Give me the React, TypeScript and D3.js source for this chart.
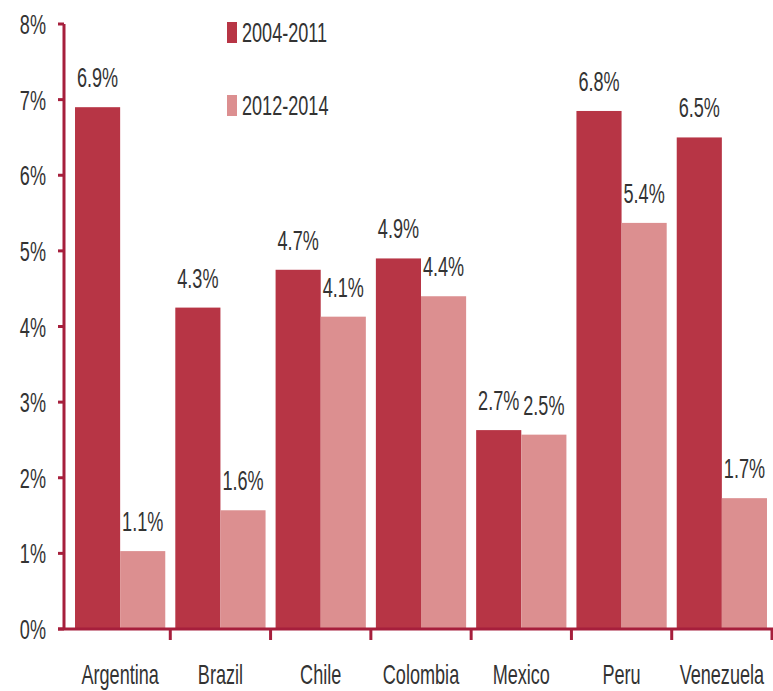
import React from 'react';
import * as d3 from 'd3';

// data
const countries = ['Argentina', 'Brazil', 'Chile', 'Colombia', 'Mexico', 'Peru', 'Venezuela'];
const series = ['2004-2011', '2012-2014'];
const values2004 = [6.9, 4.25, 4.75, 4.9, 2.63, 6.85, 6.5];
const values2012 = [1.03, 1.57, 4.13, 4.4, 2.57, 5.37, 1.73];
const labels2004 = ['6.9%', '4.3%', '4.7%', '4.9%', '2.7%', '6.8%', '6.5%'];
const labels2012 = ['1.1%', '1.6%', '4.1%', '4.4%', '2.5%', '5.4%', '1.7%'];
const yTicks = [0, 1, 2, 3, 4, 5, 6, 7, 8];

const colors = ['#b73545', '#dc8f90'];
const axisColor = '#a61f3c';
const textColor = '#333333';
const font = '"Liberation Sans", Arial, sans-serif';
const sx = 0.67;

const width = 773;
const height = 691;

// squeezed text, the original uses a narrow face
const Label = ({ x, y, children, anchor = 'middle', size = 27 }) => (
    <text
        transform={`translate(${x},${y}) scale(${sx},1)`}
        textAnchor={anchor}
        fontSize={size}
        fontFamily={font}
        fill={textColor}
    >
        {children}
    </text>
);

const App = () => {
    const margins = { left: 64, top: 24, bottom: 629 };

    const x0 = d3.scaleBand()
        .domain(countries)
        .range([70, 772])
        .paddingInner(0.1)
        .paddingOuter(0.05);

    const x1 = d3.scaleBand()
        .domain(series)
        .range([0, x0.bandwidth()]);

    const y = d3.scaleLinear()
        .domain([0, 8])
        .range([margins.bottom, margins.top]);

    const step = x0.step();
    const cellStart = (i) => 70 + i * step;

    const rows = countries.map((c, i) => ({
        country: c,
        bars: [
            { key: series[0], v: values2004[i], label: labels2004[i] },
            { key: series[1], v: values2012[i], label: labels2012[i] },
        ],
    }));

    return (
        <svg width={width} height={height} style={{ position: 'absolute', left: 0, top: 0, background: '#fff' }}>
            {rows.map((r) => (
                <g key={r.country} transform={`translate(${x0(r.country)},0)`}>
                    {r.bars.map((b, j) => (
                        <g key={b.key}>
                            <rect
                                x={x1(b.key)}
                                y={y(b.v)}
                                width={x1.bandwidth()}
                                height={y(0) - y(b.v)}
                                fill={colors[j]}
                            />
                            <Label x={x1(b.key) + x1.bandwidth() / 2} y={y(b.v) - 20}>{b.label}</Label>
                        </g>
                    ))}
                </g>
            ))}

            {/* y axis */}
            <line x1={margins.left} x2={margins.left} y1={y(8)} y2={y(0) + 1} stroke={axisColor} strokeWidth={3} />
            {yTicks.map((t) => (
                <g key={t}>
                    <line x1={margins.left - 6} x2={margins.left} y1={y(t)} y2={y(t)} stroke={axisColor} strokeWidth={3} />
                    <Label x={46} y={y(t) + 10} anchor="end">{`${t}%`}</Label>
                </g>
            ))}

            {/* x axis */}
            <line x1={margins.left - 6} x2={width} y1={y(0)} y2={y(0)} stroke={axisColor} strokeWidth={3} />
            {countries.map((c, i) => (
                <g key={c}>
                    <line x1={cellStart(i + 1)} x2={cellStart(i + 1)} y1={y(0)} y2={y(0) + 11} stroke={axisColor} strokeWidth={3} />
                    <Label x={x0(c) + x0.bandwidth() / 2} y={684}>{c}</Label>
                </g>
            ))}

            {/* legend */}
            {series.map((s, i) => (
                <g key={s} transform={`translate(227,${22 + i * 73})`}>
                    <rect x={0} y={0} width={10} height={21} fill={colors[i]} />
                    <Label x={15} y={20} anchor="start">{s}</Label>
                </g>
            ))}
        </svg>
    );
};

export default App;
